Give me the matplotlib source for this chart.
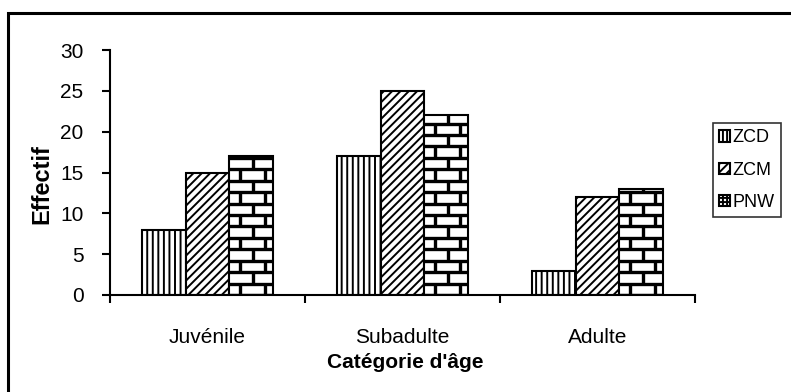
import numpy as np
import matplotlib
matplotlib.use("Agg")
import matplotlib.pyplot as plt
from matplotlib.patches import Rectangle
from matplotlib.collections import LineCollection

categories = ["Juvénile", "Subadulte", "Adulte"]
series_names = ["ZCD", "ZCM", "PNW"]
zcd = [8, 17, 3]
zcm = [15, 25, 12]
pnw = [17, 22, 13]
y_ticks = [0, 5, 10, 15, 20, 25, 30]

plt.rcParams["font.family"] = ["Liberation Sans", "DejaVu Sans"]
plt.rcParams["hatch.linewidth"] = 1.4


def brick_lines(bar, row_h=1.4, brick_w=0.125):
    # mortar lines for a brick pattern inside one bar
    x0 = bar.get_x()
    x1 = x0 + bar.get_width()
    top = bar.get_height()
    segs = []
    y = 0.0
    row = 0
    while y < top:
        segs.append([(x0, y), (x1, y)])
        off = 0.0 if row % 2 == 0 else brick_w / 2
        x = x0 + off + brick_w * 0.45
        while x < x1:
            segs.append([(x, y), (x, min(y + row_h, top))])
            x += brick_w
        y += row_h
        row += 1
    return segs


fig = plt.figure(figsize=(7.91, 3.92), dpi=100)
ax = fig.add_axes([110 / 791, 97 / 392, 585 / 791, 245 / 392])

x = np.arange(len(categories))
w = 0.225
b1 = ax.bar(x - w, zcd, w, color="white", edgecolor="black", hatch="|||",
            linewidth=1.5)
b2 = ax.bar(x, zcm, w, color="white", edgecolor="black", hatch="////",
            linewidth=1.5)
b3 = ax.bar(x + w, pnw, w, color="white", edgecolor="black",
            linewidth=1.5)

for bar in b3:
    lc = LineCollection(brick_lines(bar), colors="black", linewidths=2.4)
    ax.add_collection(lc)
    lc.set_clip_path(bar)

ax.set_xlim(-0.5, 2.5)
ax.set_ylim(0, 30)
ax.spines["top"].set_visible(False)
ax.spines["right"].set_visible(False)
ax.spines["left"].set_linewidth(1.5)
ax.spines["bottom"].set_linewidth(1.5)

ax.set_yticks(y_ticks)
ax.tick_params(axis="y", direction="out", length=6, width=1.5, pad=13,
               labelsize=15)
ax.set_xticks([-0.5, 0.5, 1.5, 2.5])
ax.set_xticklabels([])
ax.set_xticks(x, minor=True)
ax.set_xticklabels(categories, minor=True)
ax.tick_params(axis="x", which="major", direction="out", length=6, width=1.5)
ax.tick_params(axis="x", which="minor", length=0, pad=24, labelsize=15)

fig.text(405 / 791, 1 - 362 / 392, "Catégorie d'âge", ha="center",
         va="center", fontsize=15, fontweight="bold")
fig.text(42 / 791, 1 - 184 / 392, "Effectif", ha="center", va="center",
         rotation=90, fontsize=17, fontweight="bold")

handles = [
    Rectangle((0, 0), 1, 1, facecolor="white", edgecolor="black", hatch="||||", linewidth=1.5),
    Rectangle((0, 0), 1, 1, facecolor="white", edgecolor="black", hatch="////", linewidth=1.5),
    Rectangle((0, 0), 1, 1, facecolor="white", edgecolor="black", hatch="++++", linewidth=1.5),
]
leg = ax.legend(handles, series_names, loc="upper left",
                bbox_to_anchor=(713 / 791, 1 - 123 / 392),
                bbox_transform=fig.transFigure, fontsize=13,
                handlelength=0.6, handleheight=0.6, handletextpad=0.15,
                labelspacing=0.85, borderpad=0.35, borderaxespad=0,
                fancybox=False, frameon=True)
leg.get_frame().set_edgecolor("black")
leg.get_frame().set_linewidth(1.2)

# outer chart border (right and bottom sides fall outside the picture)
fig.patches.append(Rectangle((8 / 791, -0.2), 1.2, 1.2 - 13 / 392,
                             transform=fig.transFigure, fill=False,
                             edgecolor="black", linewidth=2.2))

fig.savefig("out.png", dpi=100)
